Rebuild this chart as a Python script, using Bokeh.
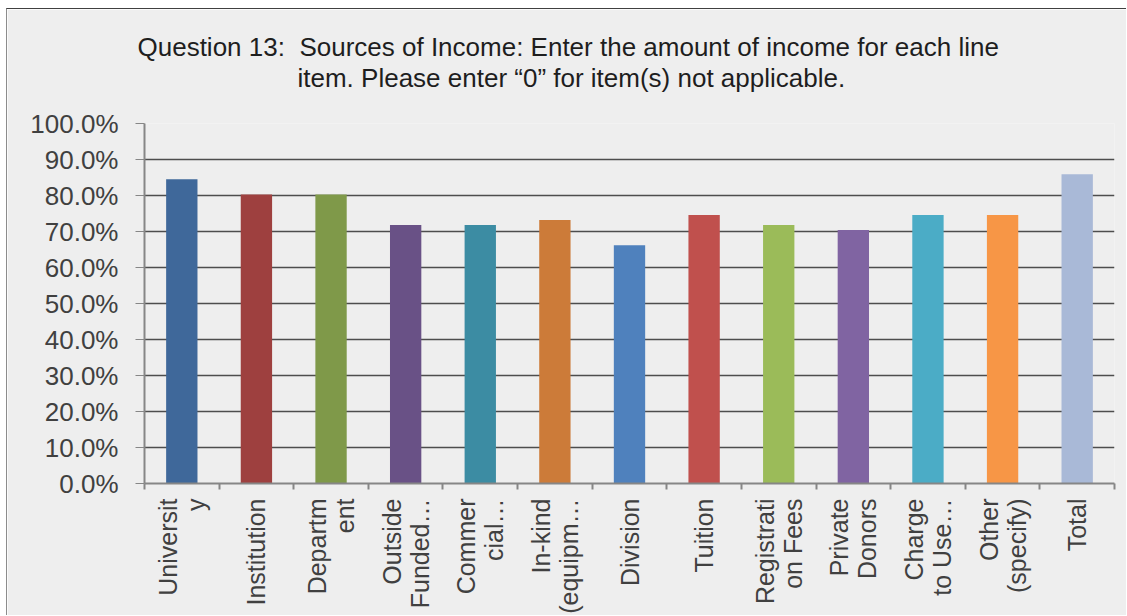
import math
from bokeh.plotting import figure
from bokeh.models import Range1d, FixedTicker, NumeralTickFormatter, CustomJSTickFormatter, ColumnDataSource, Title
from bokeh.embed import file_html
from bokeh.resources import INLINE

title_line1 = "Question 13:\u00a0 Sources of Income: Enter the amount of income for each line"
title_line2 = "item. Please enter \u201c0\u201d for item(s) not applicable."

categories = ["Universit\ny", "Institution", "Departm\nent", "Outside\nFunded\u2026",
              "Commer\ncial\u2026", "In-kind\n(equipm\u2026", "Division", "Tuition",
              "Registrati\non Fees", "Private\nDonors", "Charge\nto Use\u2026",
              "Other\n(specify)", "Total"]
values_pct = [84.5, 80.3, 80.3, 71.8, 71.8, 73.2, 66.2, 74.6, 71.8, 70.4, 74.6, 74.6, 85.9]
colors = ["#3F689A", "#9E403F", "#7F9949", "#695186", "#3C8CA3", "#CC7B39", "#4F81BD",
          "#C0504D", "#9BBB59", "#8064A2", "#4BACC6", "#F79646", "#A9B9D7"]
y_tick_pct = [0, 10, 20, 30, 40, 50, 60, 70, 80, 90, 100]

n = len(categories)
centers = [i + 0.5 for i in range(n)]
bounds = list(range(n + 1))
src = ColumnDataSource(dict(x=centers, top=[v / 100 for v in values_pct], color=colors))

p = figure(width=1120, height=607, output_backend="svg", toolbar_location=None,
           x_range=Range1d(0, n), y_range=Range1d(0, 1), title=title_line1,
           min_border_left=137, min_border_right=13, min_border_top=114, min_border_bottom=130)

p.styles = {"margin-left": "6px", "margin-top": "8px",
            "border-left": "1px solid #8c8c8c", "border-top": "1px solid #404040"}
p.background_fill_color = "#EEEEEE"
p.border_fill_color = "#EEEEEE"
p.outline_line_color = None

TFONT = "Liberation Sans"
p.title.align = "left"
p.title.offset = -7
p.title.text_font = TFONT
p.title.text_font_size = "26px"
p.title.text_font_style = "normal"
p.title.text_color = "#1e1e1e"
p.title.standoff = -65
t2 = Title(text=title_line2, align="left", text_font=TFONT, text_font_size="26px",
           text_font_style="normal", text_color="#1e1e1e", offset=153, standoff=62)
p.add_layout(t2, "above")

p.vbar(x="x", top="top", width=0.42, color="color", source=src, line_color=None)

xa = p.xaxis[0]
xa.ticker = FixedTicker(ticks=centers, minor_ticks=bounds)
xa.formatter = CustomJSTickFormatter(args=dict(labels=categories),
                                     code="return labels[Math.floor(tick)];")
xa.major_tick_line_color = None
xa.major_tick_out = 0
xa.major_tick_in = 0
xa.minor_tick_out = 6
xa.minor_tick_in = 0
xa.minor_tick_line_color = "#868686"
xa.minor_tick_line_width = 2
xa.axis_line_color = "#868686"
xa.axis_line_width = 2
xa.major_label_orientation = math.pi / 2
xa.major_label_text_font = "Liberation Sans"
xa.major_label_text_font_size = "25px"
xa.major_label_text_color = "#404040"
xa.major_label_text_line_height = 1.0
xa.major_label_standoff = 9

ya = p.yaxis[0]
ya.ticker = FixedTicker(ticks=[t / 100 for t in y_tick_pct])
ya.formatter = NumeralTickFormatter(format="0.0%")
ya.major_tick_out = 9
ya.major_tick_in = 0
ya.minor_tick_line_color = None
ya.major_tick_line_color = "#868686"
ya.axis_line_color = "#868686"
ya.axis_line_width = 2
ya.major_label_text_font = "Liberation Sans"
ya.major_label_text_font_size = "26px"
ya.major_label_text_color = "#404040"
ya.major_label_standoff = 17

p.xgrid.grid_line_color = None
p.ygrid.ticker = FixedTicker(ticks=[t / 100 for t in y_tick_pct])
p.ygrid.grid_line_color = "#4d4d4d"
p.ygrid.grid_line_width = 1.5

open("out.html", "w").write(file_html(p, INLINE))
